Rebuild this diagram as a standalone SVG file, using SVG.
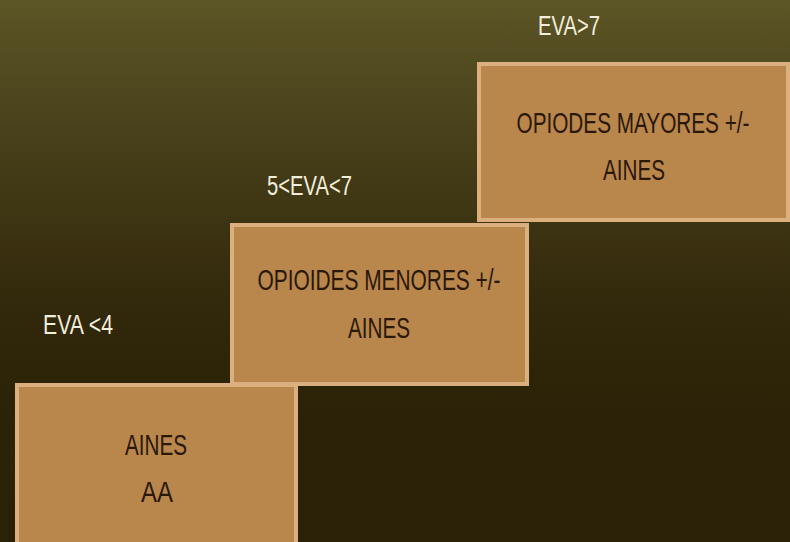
<svg xmlns="http://www.w3.org/2000/svg" width="790" height="542" viewBox="0 0 790 542">
<defs>
<linearGradient id="bg" x1="0" y1="0" x2="0" y2="1">
<stop offset="0" stop-color="#5c5526"/>
<stop offset="0.25" stop-color="#48401a"/>
<stop offset="0.55" stop-color="#33290c"/>
<stop offset="0.75" stop-color="#2b2207"/>
<stop offset="1" stop-color="#2a2106"/>
</linearGradient>
</defs>
<style>
.box{fill:#b9864c;stroke:#dcb07e;stroke-width:4}
.t{font-family:"Liberation Sans Narrow","Liberation Sans",Arial,sans-serif;font-size:30px;fill:#2a1808;text-anchor:middle}
.lbl{font-family:"Liberation Sans Narrow","Liberation Sans",Arial,sans-serif;font-size:28px;fill:#f2eedc}
</style>
<rect width="790" height="542" fill="url(#bg)"/>
<g id="box-aines">
<rect class="box" x="17" y="385" width="279" height="162"/>
<text class="t" x="156" y="455" textLength="62" lengthAdjust="spacingAndGlyphs">AINES</text>
<text class="t" x="157" y="502" textLength="32" lengthAdjust="spacingAndGlyphs">AA</text>
</g>
<g id="box-menores">
<rect class="box" x="232" y="225" width="295" height="159"/>
<text class="t" x="379" y="290" textLength="243" lengthAdjust="spacingAndGlyphs">OPIOIDES MENORES +/-</text>
<text class="t" x="379" y="338" textLength="62" lengthAdjust="spacingAndGlyphs">AINES</text>
</g>
<g id="box-mayores">
<rect class="box" x="479" y="64" width="309" height="156"/>
<text class="t" x="633" y="133" textLength="233" lengthAdjust="spacingAndGlyphs">OPIODES MAYORES +/-</text>
<text class="t" x="634" y="180" textLength="62" lengthAdjust="spacingAndGlyphs">AINES</text>
</g>
<g id="labels">
<text class="lbl" x="538" y="35" textLength="62" lengthAdjust="spacingAndGlyphs">EVA&gt;7</text>
<text class="lbl" x="267" y="195" textLength="85" lengthAdjust="spacingAndGlyphs">5&lt;EVA&lt;7</text>
<text class="lbl" x="43" y="334" textLength="70" lengthAdjust="spacingAndGlyphs">EVA &lt;4</text>
</g>
<g id="connectors"/>
</svg>
